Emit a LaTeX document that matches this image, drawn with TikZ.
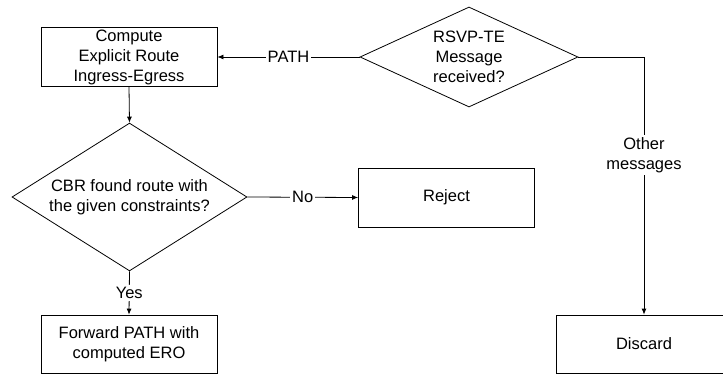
\documentclass[tikz,border=0pt]{standalone}
\usepackage{fontspec}
\setmainfont{Liberation Sans}
\usetikzlibrary{shapes.geometric,arrows.meta}

\begin{document}
\begin{tikzpicture}[x=1pt,y=-1pt,font=\fontsize{16.5}{20}\selectfont,align=center,line width=0.8pt,
  box/.style={draw,rectangle,minimum width=176pt,minimum height=59pt,inner sep=0pt},
  decision/.style={draw,diamond,inner sep=-12pt},
  lbl/.style={fill=white,inner sep=2pt},
  flow/.style={-{Latex[length=6pt,width=5pt]}}]
\useasboundingbox (0,0) rectangle (723,374);

\node [box]                                              (compute) at (129,57)  {Compute\\Explicit Route\\Ingress-Egress};
\node [decision,minimum width=218pt,minimum height=100pt] (rsvp)    at (469,57)  {RSVP-TE\\Message\\received?};
\node [decision,minimum width=235pt,minimum height=102pt] (cbr)     at (129.5,197) {CBR found route with\\the given constraints?};
\node [box]                                              (reject)  at (446.5,197.5) {Reject};
\node [box,minimum height=58pt]                          (forward) at (129,344) {Forward PATH with\\computed ERO};
\node [box,minimum height=58pt]                          (discard) at (644,344) {Discard};

\draw [flow] (rsvp.west)  -- node [lbl] {PATH} (compute.east);
\draw [flow] (compute.south) -- (cbr.north);
\draw [flow] (cbr.east)   -- node [lbl] {No}  (reject.west);
\draw [flow] (cbr.south)  -- node [lbl] {Yes} (forward.north);
\draw [flow] (rsvp.east)  -| node [lbl,pos=0.69] {Other\\messages} (discard.north);
\end{tikzpicture}
\end{document}
